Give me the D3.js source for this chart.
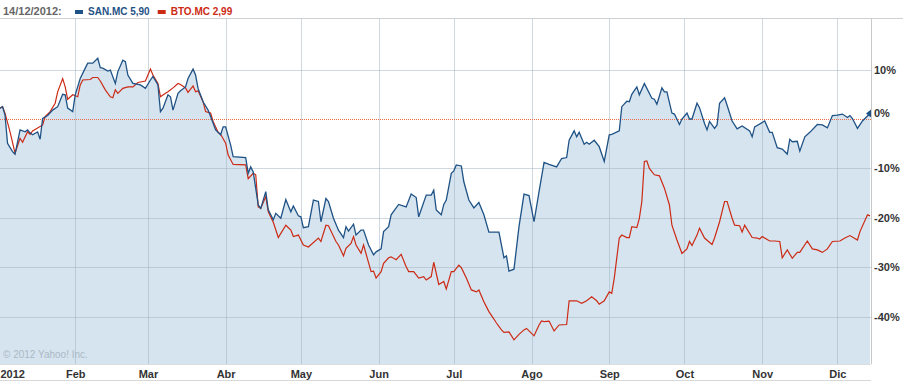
<!DOCTYPE html>
<html>
<head>
<meta charset="utf-8">
<script src="https://cdn.jsdelivr.net/npm/d3@7"></script>
<style>
body{margin:0;background:#fff;}
svg{display:block;font-family:"Liberation Sans",Arial,sans-serif;}
</style>
</head>
<body>
<div id="chart"></div>
<script>
// variation % depuis le 2 janvier 2012, [date, valeur]
const san = [["01-02",2.2],["01-03",2.5],["01-04",0.8],["01-05",-4.9],["01-07",-6.6],["01-08",-7.1],["01-10",-2.2],["01-12",-2.6],["01-13",-2.2],["01-14",-2.8],["01-15",-3.2],["01-17",-2.6],["01-18",-4.1],["01-19",0.1],["01-21",0.7],["01-23",1.8],["01-25",2.5],["01-27",5.0],["01-28",4.9],["01-29",2.2],["01-31",1.5],
["02-01",4.9],["02-03",8.2],["02-05",10.3],["02-06",11.3],["02-08",11.3],["02-10",12.3],["02-11",10.4],["02-12",10.3],["02-14",9.7],["02-15",9.9],["02-17",7.2],["02-18",9.6],["02-20",11.9],["02-21",11.6],["02-22",8.9],["02-24",7.2],["02-27",6.9],["02-29",6.2],
["03-02",7.9],["03-03",8.6],["03-05",6.9],["03-06",1.5],["03-07",2.2],["03-09",4.9],["03-10",4.5],["03-11",1.8],["03-13",5.2],["03-14",5.7],["03-16",6.5],["03-17",8.2],["03-19",10.1],["03-20",8.9],["03-21",6.2],["03-23",3.5],["03-25",1.8],["03-26",0.5],["03-28",-2.2],["03-30",-3.2],["03-31",-1.6],
["04-01",-1.6],["04-03",-5.3],["04-04",-7.6],["04-09",-7.8],["04-10",-11.0],["04-11",-9.7],["04-12",-10.7],["04-14",-17.4],["04-15",-18.1],["04-17",-14.7],["04-18",-18.4],["04-20",-20.4],["04-21",-19.1],["04-23",-20.1],["04-25",-16.3],["04-27",-18.8],["04-28",-17.6],["04-30",-19.6],
["05-01",-19.8],["05-02",-22.0],["05-04",-21.8],["05-06",-16.4],["05-08",-16.7],["05-09",-20.8],["05-11",-16.1],["05-12",-16.7],["05-14",-20.1],["05-16",-22.5],["05-18",-24.0],["05-19",-21.8],["05-20",-22.7],["05-22",-21.3],["05-23",-23.5],["05-25",-22.5],["05-26",-22.5],["05-28",-25.5],["05-30",-27.5],["05-31",-26.9],
["06-02",-26.3],["06-03",-22.8],["06-05",-21.8],["06-06",-19.4],["06-09",-17.3],["06-12",-17.8],["06-14",-15.2],["06-16",-15.9],["06-17",-19.8],["06-20",-15.4],["06-22",-15.4],["06-23",-14.4],["06-24",-18.4],["06-26",-19.4],["06-27",-17.3],["06-28",-16.4],["06-30",-11.0],
["07-01",-10.5],["07-02",-9.3],["07-04",-9.5],["07-05",-12.7],["07-07",-16.4],["07-09",-18.0],["07-11",-16.9],["07-13",-19.4],["07-15",-22.9],["07-19",-22.9],["07-21",-28.1],["07-22",-27.7],["07-23",-30.8],["07-25",-30.4],["07-27",-21.8],["07-29",-15.2],["07-31",-15.5],
["08-02",-20.8],["08-04",-14.7],["08-06",-8.8],["08-08",-9.2],["08-11",-9.7],["08-13",-8.0],["08-15",-7.8],["08-16",-4.3],["08-18",-2.4],["08-19",-3.6],["08-20",-2.7],["08-22",-5.1],["08-23",-4.7],["08-24",-5.1],["08-26",-4.3],["08-28",-5.6],["08-30",-8.6],
["09-01",-3.2],["09-02",-3.1],["09-05",-2.4],["09-06",2.5],["09-08",3.6],["09-09",3.5],["09-10",5.0],["09-12",6.5],["09-13",4.9],["09-15",7.2],["09-16",6.2],["09-18",4.2],["09-19",4.0],["09-20",3.0],["09-22",6.3],["09-23",5.5],["09-24",5.5],["09-26",1.2],["09-27",1.0],["09-29",-1.1],["09-30",0.0],
["10-02",1.2],["10-03",0.0],["10-04",0.0],["10-06",3.2],["10-07",2.3],["10-09",-0.9],["10-10",-2.2],["10-11",-0.5],["10-13",-1.9],["10-14",-1.2],["10-15",3.2],["10-17",4.3],["10-18",2.8],["10-20",-0.4],["10-22",-2.0],["10-24",-1.4],["10-27",-2.4],["10-28",-3.6],["10-29",-1.6],
["11-02",-0.4],["11-04",-2.7],["11-05",-2.7],["11-07",-5.8],["11-09",-6.1],["11-11",-7.1],["11-12",-4.1],["11-13",-4.6],["11-15",-4.5],["11-16",-6.5],["11-18",-3.6],["11-20",-2.7],["11-23",-1.1],["11-25",-1.2],["11-27",-1.8],["11-29",0.7],
["12-01",0.8],["12-03",1.0],["12-05",0.3],["12-06",0.7],["12-07",0.1],["12-09",-1.9],["12-11",-0.4],["12-14",1.1]];

const bto = [["01-02",2.2],["01-03",2.5],["01-04",1.2],["01-06",-2.6],["01-08",-6.9],["01-10",-3.9],["01-11",-4.7],["01-13",-2.6],["01-14",-3.1],["01-15",-2.4],["01-17",-1.8],["01-19",-1.2],["01-20",0.5],["01-22",1.5],["01-24",3.2],["01-25",5.5],["01-27",8.2],["01-28",6.5],["01-29",4.0],["01-31",4.9],
["02-02",4.5],["02-03",6.9],["02-04",7.9],["02-07",8.0],["02-08",8.4],["02-10",8.4],["02-11",7.7],["02-13",5.9],["02-15",4.5],["02-16",4.3],["02-17",5.9],["02-18",5.2],["02-20",6.2],["02-22",6.5],["02-24",6.5],["02-26",7.4],["02-29",7.7],
["03-02",10.1],["03-03",8.9],["03-05",7.2],["03-06",4.5],["03-08",5.2],["03-09",5.5],["03-11",6.3],["03-13",7.2],["03-14",7.0],["03-16",6.3],["03-17",5.4],["03-19",6.7],["03-20",5.5],["03-21",5.7],["03-23",3.5],["03-24",1.5],["03-26",1.2],["03-27",-0.5],["03-29",-2.7],["03-30",-3.1],
["04-01",-4.9],["04-02",-7.3],["04-04",-9.2],["04-09",-9.3],["04-10",-12.1],["04-12",-11.0],["04-13",-11.3],["04-14",-17.8],["04-15",-18.1],["04-17",-15.7],["04-18",-18.8],["04-20",-20.9],["04-22",-24.0],["04-25",-21.5],["04-27",-22.5],["04-28",-23.8],["04-30",-23.5],
["05-02",-25.5],["05-04",-25.9],["05-08",-24.1],["05-09",-24.8],["05-11",-21.5],["05-12",-21.6],["05-15",-24.8],["05-16",-25.5],["05-18",-27.7],["05-19",-26.2],["05-21",-25.2],["05-22",-23.8],["05-23",-25.5],["05-25",-27.2],["05-26",-25.5],["05-29",-30.9],["05-30",-30.8],["05-31",-32.2],
["06-02",-30.9],["06-03",-29.2],["06-05",-28.1],["06-06",-27.9],["06-08",-28.5],["06-10",-27.4],["06-12",-29.9],["06-13",-30.9],["06-15",-30.9],["06-17",-32.2],["06-19",-31.9],["06-20",-32.6],["06-22",-31.9],["06-23",-29.0],["06-25",-33.5],["06-27",-32.9],["06-28",-34.4],["06-30",-30.9],
["07-01",-30.9],["07-03",-29.6],["07-04",-30.1],["07-06",-32.2],["07-08",-34.6],["07-10",-35.0],["07-11",-34.6],["07-13",-37.0],["07-15",-39.0],["07-17",-40.5],["07-18",-41.3],["07-20",-42.7],["07-21",-43.2],["07-23",-43.1],["07-25",-44.7],["07-27",-43.6],["07-29",-42.7],["07-30",-42.4],["07-31",-42.9],
["08-02",-43.9],["08-04",-41.7],["08-05",-40.9],["08-06",-41.0],["08-08",-40.9],["08-10",-42.9],["08-12",-41.7],["08-15",-41.6],["08-16",-36.8],["08-19",-36.8],["08-21",-37.3],["08-23",-36.8],["08-25",-36.0],["08-27",-36.8],["08-28",-37.5],["08-30",-36.8],
["09-01",-35.0],["09-02",-35.3],["09-03",-32.2],["09-05",-24.1],["09-06",-23.5],["09-08",-24.0],["09-09",-24.0],["09-10",-21.8],["09-12",-22.0],["09-13",-20.1],["09-14",-16.7],["09-15",-8.6],["09-16",-8.5],["09-17",-10.0],["09-19",-11.3],["09-21",-11.5],["09-23",-14.0],["09-25",-17.4],["09-26",-21.5],["09-28",-24.5],["09-30",-27.2],
["10-02",-26.3],["10-03",-24.8],["10-04",-25.6],["10-06",-23.5],["10-07",-22.1],["10-09",-24.1],["10-12",-25.4],["10-13",-24.1],["10-15",-20.8],["10-17",-16.7],["10-18",-16.7],["10-20",-20.1],["10-21",-21.5],["10-23",-21.6],["10-24",-22.9],["10-25",-21.5],["10-28",-24.0],["10-30",-24.1],["10-31",-24.3],
["11-01",-23.8],["11-04",-24.7],["11-06",-24.7],["11-08",-24.8],["11-09",-28.1],["11-11",-26.5],["11-13",-28.2],["11-15",-27.0],["11-16",-27.0],["11-19",-24.7],["11-21",-26.3],["11-23",-26.5],["11-25",-27.0],["11-27",-26.3],["11-29",-24.8],
["12-02",-24.7],["12-04",-24.1],["12-06",-23.6],["12-09",-24.5],["12-10",-22.8],["12-13",-19.4],["12-14",-19.6]];

const yTicks = [10, 0, -10, -20, -30, -40];
const monthLabels = ["2012","Feb","Mar","Abr","May","Jun","Jul","Ago","Sep","Oct","Nov","Dic"];
const legende = [{nom:"SAN.MC 5,90", couleur:"#1f5285"}, {nom:"BTO.MC 2,99", couleur:"#cc2a14"}];
const dateTitre = "14/12/2012:";

const W = 903, H = 382;
const gauche = 0, droite = 871, haut = 18, bas = 364;
const parse = d3.timeParse("%Y-%m-%d");
const lire = s => s.map(d => ({date: parse("2012-" + d[0]), v: d[1]}));
const sanPts = lire(san), btoPts = lire(bto);

const x = d3.scaleTime().domain([parse("2012-01-02"), parse("2012-12-14")]).range([gauche, droite - 1]);
const y = d3.scaleLinear().domain([-49.6, 20.45]).range([bas, haut]);

const svg = d3.select("#chart").append("svg").attr("width", W).attr("height", H);

// aire sous SAN
svg.append("path").datum(sanPts)
  .attr("fill", "#d6e4ef")
  .attr("d", d3.area().x(d => x(d.date)).y0(bas).y1(d => y(d.v)));

// grille
const mois = d3.timeMonths(parse("2012-01-01"), parse("2012-12-15"));
svg.append("g").selectAll("line").data(mois.slice(1)).join("line")
  .attr("x1", d => Math.round(x(d)) + 0.5).attr("x2", d => Math.round(x(d)) + 0.5)
  .attr("y1", haut).attr("y2", bas)
  .attr("stroke", "#9fb0c0").attr("stroke-opacity", 0.5);
svg.append("g").selectAll("line").data(yTicks.filter(t => t != 0)).join("line")
  .attr("x1", gauche).attr("x2", droite)
  .attr("y1", d => Math.round(y(d)) + 0.5).attr("y2", d => Math.round(y(d)) + 0.5)
  .attr("stroke", "#9fb0c0").attr("stroke-opacity", 0.5);

// cadre
svg.append("line").attr("x1", 0).attr("x2", W).attr("y1", haut + 0.5).attr("y2", haut + 0.5).attr("stroke", "#d0d0d0");
svg.append("line").attr("x1", droite + 0.5).attr("x2", droite + 0.5).attr("y1", haut).attr("y2", bas).attr("stroke", "#c8c8c8");
svg.append("line").attr("x1", 0).attr("x2", droite).attr("y1", bas + 0.5).attr("y2", bas + 0.5).attr("stroke", "#d8dde2");
svg.append("line").attr("x1", 0).attr("x2", droite).attr("y1", H - 1.5).attr("y2", H - 1.5).attr("stroke", "#d8d8d8");

// ligne zéro pointillée (rectangles de 1px, plus nets qu'un dasharray)
const yZero = Math.round(y(0));
svg.append("g").selectAll("rect").data(d3.range(gauche, droite, 2)).join("rect")
  .attr("x", d => d).attr("y", yZero).attr("width", 1).attr("height", 1)
  .attr("fill", "#ee6a48");

const ligne = d3.line().x(d => x(d.date)).y(d => y(d.v));
svg.append("path").datum(btoPts).attr("fill", "none").attr("stroke", legende[1].couleur).attr("stroke-width", 1.2).attr("d", ligne);
svg.append("path").datum(sanPts).attr("fill", "none").attr("stroke", legende[0].couleur).attr("stroke-width", 1.3).attr("d", ligne);

// marqueur fin SAN
const fin = sanPts[sanPts.length - 1];
const fx = x(fin.date), fy = y(fin.v);
svg.append("path").attr("d", `M${fx - 4},${fy} L${fx + 1},${fy - 4} L${fx + 1},${fy + 4} Z`).attr("fill", legende[0].couleur);

// axe Y
const axeY = svg.append("g").attr("transform", `translate(${droite + 2},0)`)
  .call(d3.axisRight(y).tickValues(yTicks).tickSize(0).tickPadding(1).tickFormat(d => d + "%"));
axeY.select(".domain").remove();
axeY.selectAll("text").attr("font-family", "Liberation Sans, Arial, sans-serif")
  .attr("font-size", 11).attr("font-weight", "bold").attr("fill", "#333")
  .attr("dy", d => d == 0 ? "-0.2em" : "0.32em");

// axe X
const axeX = svg.append("g").attr("transform", `translate(0,${bas})`)
  .call(d3.axisBottom(x).tickValues(mois.map((m, i) => i == 0 ? x.domain()[0] : m)).tickSize(0).tickPadding(6)
    .tickFormat((d, i) => monthLabels[i]));
axeX.select(".domain").remove();
axeX.selectAll("text").attr("font-family", "Liberation Sans, Arial, sans-serif")
  .attr("font-size", 11).attr("font-weight", "bold").attr("fill", "#333")
  .attr("text-anchor", (d, i) => i == 0 ? "start" : "middle");

// copyright
svg.append("text").attr("x", 3).attr("y", 358).attr("font-size", 10).attr("fill", "#aab9c6").text("\u00a9 2012 Yahoo! Inc.");

// en-tête
svg.append("text").attr("x", 3).attr("y", 15).attr("font-size", 11).attr("font-weight", "bold").attr("fill", "#666").text(dateTitre);
let lx = 75;
legende.forEach(l => {
  svg.append("rect").attr("x", lx).attr("y", 10).attr("width", 8).attr("height", 4).attr("fill", l.couleur);
  const t = svg.append("text").attr("x", lx + 13).attr("y", 15).attr("font-size", 10).attr("font-weight", "bold").attr("fill", l.couleur).text(l.nom);
  lx += 13 + t.node().getComputedTextLength() + 8;
});
</script>
</body>
</html>
